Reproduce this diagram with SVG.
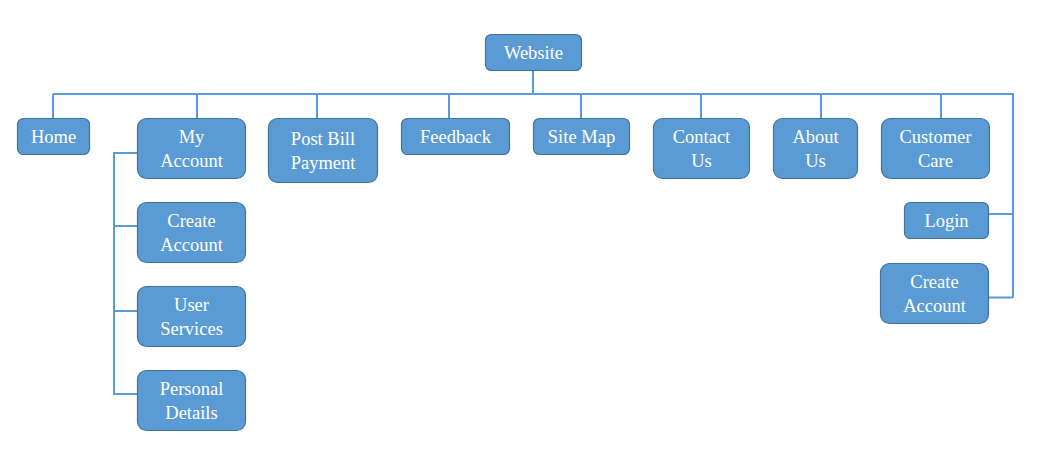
<svg xmlns="http://www.w3.org/2000/svg" width="1045" height="459" viewBox="0 0 1045 459">
<style>
.n rect{fill:#5B9BD5;stroke:#41719C;stroke-width:1.2}
.n text{font-family:'Liberation Serif','Times New Roman',Tinos,'DejaVu Serif',serif;font-size:18.5px;fill:#fff;text-anchor:middle}
.c path{fill:none;stroke:#5B9BD5;stroke-width:2}
</style>
<rect width="1045" height="459" fill="#fff"/>
<g class="c">
<path d="M533 70V94M53 94H1013V297.5M53 94V118M197 94V118M317 94V118M449 94V118M581 94V118M701 94V118M821 94V118M941 94V118"/>
<path d="M137 153H114V394H137M114 226H137M114 311H137"/>
<path d="M989 214H1013M989 297.5H1013"/>
</g>
<g class="n" id="website"><rect x="485.5" y="34.5" width="96" height="36" rx="6"/><text x="533.5" y="58.5">Website</text></g>
<g class="n" id="home"><rect x="17.5" y="118.5" width="72" height="36" rx="6"/><text x="53.5" y="142.5">Home</text></g>
<g class="n" id="myaccount"><rect x="137.5" y="118.5" width="108" height="60" rx="9"/><text x="191.5" y="143">My</text><text x="191.5" y="167">Account</text></g>
<g class="n" id="postbill"><rect x="268.5" y="118.5" width="109" height="64" rx="9"/><text x="323" y="144.5">Post Bill</text><text x="323" y="168.5">Payment</text></g>
<g class="n" id="feedback"><rect x="401.5" y="118.5" width="108" height="36" rx="6"/><text x="455.5" y="142.5">Feedback</text></g>
<g class="n" id="sitemap"><rect x="533.5" y="118.5" width="96" height="36" rx="6"/><text x="581.5" y="142.5">Site Map</text></g>
<g class="n" id="contactus"><rect x="653.5" y="118.5" width="96" height="60" rx="9"/><text x="701.5" y="143">Contact</text><text x="701.5" y="167">Us</text></g>
<g class="n" id="aboutus"><rect x="773.5" y="118.5" width="84" height="60" rx="9"/><text x="815.5" y="143">About</text><text x="815.5" y="167">Us</text></g>
<g class="n" id="customercare"><rect x="881.5" y="118.5" width="108" height="60" rx="9"/><text x="935.5" y="143">Customer</text><text x="935.5" y="167">Care</text></g>
<g class="n" id="createaccount1"><rect x="137.5" y="202.5" width="108" height="60" rx="9"/><text x="191.5" y="227">Create</text><text x="191.5" y="251">Account</text></g>
<g class="n" id="userservices"><rect x="137.5" y="286.5" width="108" height="60" rx="9"/><text x="191.5" y="311">User</text><text x="191.5" y="335">Services</text></g>
<g class="n" id="personaldetails"><rect x="137.5" y="370.5" width="108" height="60" rx="9"/><text x="191.5" y="395">Personal</text><text x="191.5" y="419">Details</text></g>
<g class="n" id="login"><rect x="904.5" y="202.5" width="84" height="36" rx="6"/><text x="946.5" y="226.5">Login</text></g>
<g class="n" id="createaccount2"><rect x="880.5" y="263.5" width="108" height="60" rx="9"/><text x="934.5" y="288">Create</text><text x="934.5" y="312">Account</text></g>
</svg>
